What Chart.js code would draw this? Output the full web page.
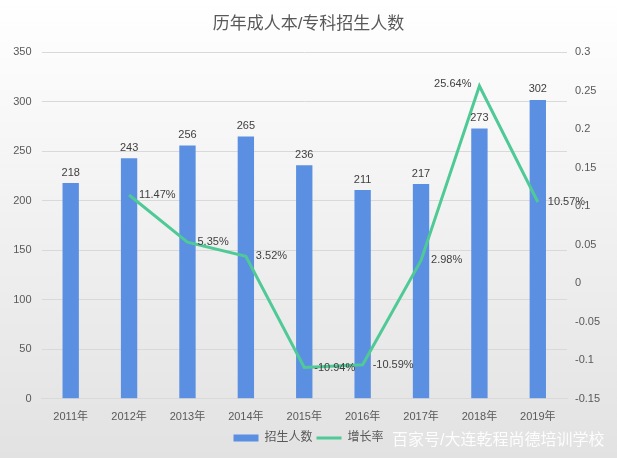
<!DOCTYPE html>
<html>
<head>
<meta charset="utf-8">
<script src="https://cdn.jsdelivr.net/npm/chart.js@4.4.1/dist/chart.umd.min.js"></script>
<style>
  html, body { margin: 0; padding: 0; background: #fff; }
  #wrap { width: 617px; height: 458px; }
</style>
</head>
<body>
<div id="wrap"><canvas id="chart" width="617" height="458"></canvas></div>
<script>
const years = ["2011年", "2012年", "2013年", "2014年", "2015年", "2016年", "2017年", "2018年", "2019年"];
const students = [218, 243, 256, 265, 236, 211, 217, 273, 302];
const growth = [null, 0.1147, 0.0535, 0.0352, -0.1094, -0.1059, 0.0298, 0.2564, 0.1057];
const growthLabels = ["", "11.47%", "5.35%", "3.52%", "-10.94%", "-10.59%", "2.98%", "25.64%", "10.57%"];

const FONT = "'Liberation Sans', 'Noto Sans CJK SC', sans-serif";
const TEXT = "#595959";

const bgPlugin = {
  id: "bg",
  beforeDraw(chart) {
    const ctx = chart.ctx;
    const g = ctx.createLinearGradient(0, 0, 0, chart.height);
    g.addColorStop(0, "#ffffff");
    g.addColorStop(1, "#e2e2e2");
    ctx.save();
    ctx.fillStyle = g;
    ctx.fillRect(0, 0, chart.width, chart.height);
    ctx.restore();
  }
};

const labelPlugin = {
  id: "labels",
  afterDatasetsDraw(chart) {
    const ctx = chart.ctx;
    ctx.save();
    ctx.font = "11px " + FONT;
    ctx.fillStyle = "#404040";
    // bar values
    chart.getDatasetMeta(0).data.forEach((bar, i) => {
      ctx.textAlign = "center";
      ctx.textBaseline = "bottom";
      ctx.fillText(students[i], bar.x, bar.y - 5);
    });
    // growth labels
    chart.getDatasetMeta(1).data.forEach((pt, i) => {
      if (growth[i] === null) return;
      ctx.textBaseline = "middle";
      if (i === 7) {
        ctx.textAlign = "right";
        ctx.fillText(growthLabels[i], pt.x - 8, pt.y - 2);
      } else {
        ctx.textAlign = "left";
        ctx.fillText(growthLabels[i], pt.x + 10, pt.y);
      }
    });
    ctx.restore();
  },
  afterDraw(chart) {
    const ctx = chart.ctx;
    ctx.save();
    ctx.font = "16px " + FONT;
    ctx.fillStyle = "rgba(255,255,255,0.9)";
    ctx.textAlign = "left";
    ctx.textBaseline = "middle";
    ctx.fillText("百家号/大连乾程尚德培训学校", 392, 441);
    ctx.restore();
  }
};

new Chart(document.getElementById("chart"), {
  type: "bar",
  data: {
    labels: years,
    datasets: [
      {
        label: "招生人数",
        data: students,
        backgroundColor: "#5b8fe1",
        borderWidth: 0,
        barPercentage: 0.28,
        categoryPercentage: 1,
        yAxisID: "y",
        order: 2,
        pointStyle: "rect"
      },
      {
        type: "line",
        label: "增长率",
        data: growth,
        borderColor: "#4fca96",
        backgroundColor: "#4fca96",
        borderWidth: 3,
        pointRadius: 0,
        tension: 0,
        yAxisID: "y1",
        order: 1,
        pointStyle: "line"
      }
    ]
  },
  options: {
    responsive: false,
    animation: false,
    layout: { padding: { top: 10, left: 0, right: 0, bottom: 4 } },
    plugins: {
      title: {
        display: true,
        text: "历年成人本/专科招生人数",
        color: TEXT,
        font: { family: FONT, size: 17, weight: "normal" },
        padding: { top: 4, bottom: 18 }
      },
      legend: {
        position: "bottom",
        labels: {
          usePointStyle: true,
          pointStyleWidth: 25,
          boxWidth: 25,
          boxHeight: 7,
          color: TEXT,
          font: { family: FONT, size: 12 },
          padding: 4,
          sort: (a, b) => a.datasetIndex - b.datasetIndex
        }
      },
      tooltip: { enabled: false }
    },
    scales: {
      x: {
        grid: { display: false },
        border: { color: "#d9d9d9" },
        ticks: { color: TEXT, font: { family: FONT, size: 11 }, padding: 4 }
      },
      y: {
        position: "left",
        min: 0,
        max: 350,
        ticks: { stepSize: 50, color: TEXT, font: { family: FONT, size: 11 }, padding: 10 },
        grid: { color: "#d9d9d9", drawTicks: false },
        border: { display: false },
        afterFit(s) { s.width = 41.5; }
      },
      y1: {
        position: "right",
        min: -0.15,
        max: 0.3,
        ticks: { stepSize: 0.05, color: TEXT, font: { family: FONT, size: 11 }, padding: 8,
          callback: v => String(Math.round(v * 100) / 100) },
        grid: { display: false, drawTicks: false },
        border: { display: false },
        afterFit(s) { s.width = 50; }
      }
    }
  },
  plugins: [bgPlugin, labelPlugin]
});
</script>
</body>
</html>
